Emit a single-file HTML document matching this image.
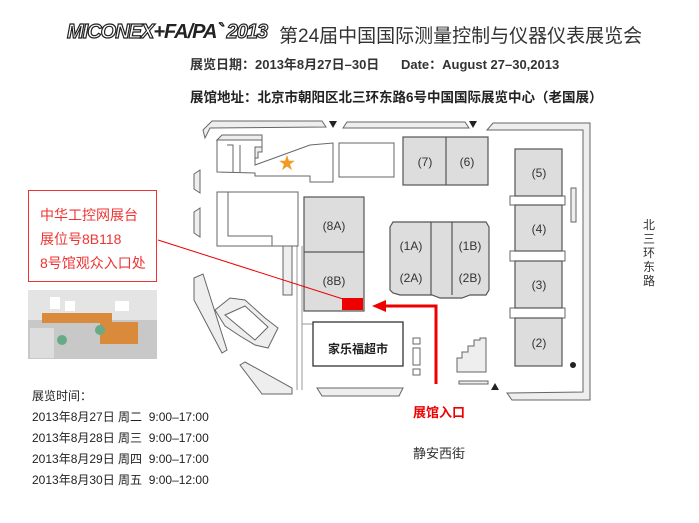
<!DOCTYPE html>
<html><head><meta charset="utf-8"><style>
body{margin:0;background:#fff;width:699px;height:523px;overflow:hidden;position:relative;font-family:"Liberation Sans","Noto Sans CJK SC",sans-serif}
.t{position:absolute;white-space:nowrap;color:#222}
</style></head><body>
<div class="t" style="left:67px;top:21px;font-size:20px;font-weight:bold;font-style:italic;color:#fff;-webkit-text-stroke:1.2px #222;letter-spacing:-1px">MICONEX<span style="color:#222;-webkit-text-stroke:0">+FA/PA</span>` 2013</div>
<div class="t" style="left:279px;top:21px;font-size:19px;color:#333">第24届中国国际测量控制与仪器仪表展览会</div>
<div class="t" style="left:190px;top:54px;font-size:13px;font-weight:bold;color:#333">展览日期：2013年8月27日–30日 &nbsp;&nbsp;&nbsp;&nbsp; Date：August 27–30,2013</div>
<div class="t" style="left:190px;top:86px;font-size:13.5px;font-weight:bold;color:#222">展馆地址：北京市朝阳区北三环东路6号中国国际展览中心（老国展）</div>

<svg width="699" height="523" style="position:absolute;left:0;top:0">
<g fill="#fff" stroke="#666" stroke-width="1">
<path d="M203 130 L212 121 L322 121 L326 127 L210 128 L205 138 Z" fill="#eee"/>
<path d="M343 128 L347 122 L465 122 L469 128 Z" fill="#eee"/>
<path d="M487 130 L493 123 L590 123 L590 400 L512 400 L507 393 L583 392 L583 130 Z" fill="#eee"/>
<path d="M194 174 L200 170 L200 193 L194 189 Z" fill="#eee"/>
<path d="M194 212 L200 208 L200 237 L194 233 Z" fill="#eee"/>
<path d="M194 278 L203 274 L227 350 L222 353 L194 300 Z" fill="#eee"/>
<path d="M240 365 L245 362 L292 388 L292 394 L262 394 Z" fill="#eee"/>
<path d="M317 388 L403 388 L399 396 L322 396 Z" fill="#eee"/>
<path d="M297 246 L297 390 M302 246 L302 390" fill="none" stroke="#999"/>
<line x1="302" y1="324" x2="313" y2="324" stroke="#999"/>
<path d="M217 140 L222 135 L262 135 L262 152 L258 152 L258 158 L252 158 L252 143 Z" fill="#eee"/>
<path d="M217 140 L262 140 L262 147 L255 147 L255 165 L310 145 L333 143 L333 182 L310 182 L310 176 L255 176 L255 173 L217 172 Z"/>
<path d="M227 145 L233 145 L233 172 M240 145 L240 172" fill="none"/>
<rect x="339" y="143" width="55" height="34"/>
<rect x="217" y="192" width="81" height="54"/>
<path d="M228 192 L228 236 L272 236 L272 246" fill="none"/>
<rect x="283" y="246" width="9" height="49" fill="#eee"/>
<path d="M215 310 L230 298 L245 300 L265 318 L278 328 L268 348 L255 345 L240 336 L225 326 Z" fill="#eee"/>
<path d="M225 315 L245 306 L268 327 L255 340 Z"/>
<rect x="510" y="196" width="55" height="9"/>
<rect x="510" y="251" width="55" height="10"/>
<rect x="510" y="308" width="55" height="10"/>
<rect x="571" y="188" width="5" height="34" fill="#eee"/>
</g>
<g fill="#ddd" stroke="#555" stroke-width="1.2">
<rect x="403" y="137" width="85" height="48"/><line x1="446" y1="137" x2="446" y2="185"/>
<rect x="515" y="149" width="47" height="47"/>
<rect x="515" y="205" width="47" height="46"/>
<rect x="515" y="261" width="47" height="47"/>
<rect x="515" y="318" width="47" height="48"/>
<rect x="304" y="197" width="60" height="114"/><line x1="304" y1="252" x2="364" y2="252"/>
<path d="M390 227 L393 222 L486 222 L489 227 L489 290 L486 295 L470 295 L462 298 L440 298 L432 295 L400 295 L393 293 L390 290 Z"/>
<line x1="431" y1="222" x2="431" y2="295"/><line x1="452" y1="222" x2="452" y2="295"/>
</g>
<g fill="#fff" stroke="#666">
<rect x="313" y="322" width="90" height="44" stroke="#333" stroke-width="1.3"/>
<rect x="413" y="338" width="7" height="6"/><rect x="413" y="348" width="7" height="17"/><rect x="413" y="369" width="7" height="6"/>
<path d="M457 372 L457 358 L462 358 L462 352 L468 352 L468 346 L474 346 L474 340 L480 340 L480 338 L486 338 L486 372 Z" fill="#eee"/>
<rect x="459" y="381" width="29" height="3" fill="#eee"/>
</g>
<g fill="#222">
<path d="M329 121 L337 121 L333 128 Z"/><path d="M469 121 L477 121 L473 128 Z"/>
<path d="M491 390 L499 390 L495 383 Z"/><circle cx="573" cy="365" r="3"/>
</g>
<text x="287" y="169" font-size="17" fill="#f39a22" text-anchor="middle">★</text>
<g font-size="12" fill="#333" text-anchor="middle" font-family="Liberation Sans,sans-serif">
<text x="425" y="166">(7)</text><text x="467" y="166">(6)</text>
<text x="539" y="177">(5)</text><text x="539" y="233">(4)</text><text x="539" y="289">(3)</text><text x="539" y="347">(2)</text>
<text x="334" y="230">(8A)</text><text x="334" y="285">(8B)</text>
<text x="411" y="250">(1A)</text><text x="470" y="250">(1B)</text>
<text x="411" y="282">(2A)</text><text x="470" y="282">(2B)</text>
</g>
<text x="358" y="353" font-size="12" font-weight="bold" fill="#222" text-anchor="middle" font-family="Noto Sans CJK SC,sans-serif">家乐福超市</text>
<line x1="158" y1="240" x2="343" y2="299" stroke="#e00" stroke-width="1"/>
<rect x="342" y="298" width="21" height="12" fill="#e00"/>
<path d="M436 384 L436 306 L382 306" fill="none" stroke="#e00" stroke-width="3"/>
<path d="M372 306 L386 300 L386 312 Z" fill="#e00"/>
<rect x="28" y="290" width="129" height="69" fill="#c8c8c8"/>
<rect x="28" y="290" width="129" height="30" fill="#e4e4e4"/>
<rect x="42" y="313" width="70" height="10" fill="#d98a3a"/>
<rect x="100" y="322" width="38" height="22" fill="#d98a3a"/>
<rect x="30" y="328" width="24" height="30" fill="#ddd"/>
<rect x="50" y="297" width="10" height="12" fill="#fff"/><rect x="65" y="301" width="10" height="10" fill="#fff"/><rect x="115" y="301" width="14" height="10" fill="#fff"/>
<circle cx="62" cy="340" r="5" fill="#6a8"/><circle cx="100" cy="330" r="5" fill="#6a8"/>
</svg>
<div style="position:absolute;left:28px;top:190px;width:127px;height:90px;border:1px solid #e33"></div>
<div class="t" style="left:40px;top:203px;font-size:14px;color:#e33;line-height:24px">中华工控网展台<br>展位号8B118<br>8号馆观众入口处</div>
<div class="t" style="left:413px;top:402px;font-size:13px;font-weight:bold;color:#e00">展馆入口</div>
<div class="t" style="left:413px;top:443px;font-size:13px;color:#333">静安西街</div>
<div class="t" style="left:643px;top:218px;font-size:12px;color:#333;width:14px;white-space:normal;line-height:14px">北三环东路</div>
<div class="t" style="left:32px;top:386px;font-size:12px;color:#222;line-height:21px">展览时间：<br>2013年8月27日 周二 &nbsp;9:00–17:00<br>2013年8月28日 周三 &nbsp;9:00–17:00<br>2013年8月29日 周四 &nbsp;9:00–17:00<br>2013年8月30日 周五 &nbsp;9:00–12:00</div>
</body></html>
